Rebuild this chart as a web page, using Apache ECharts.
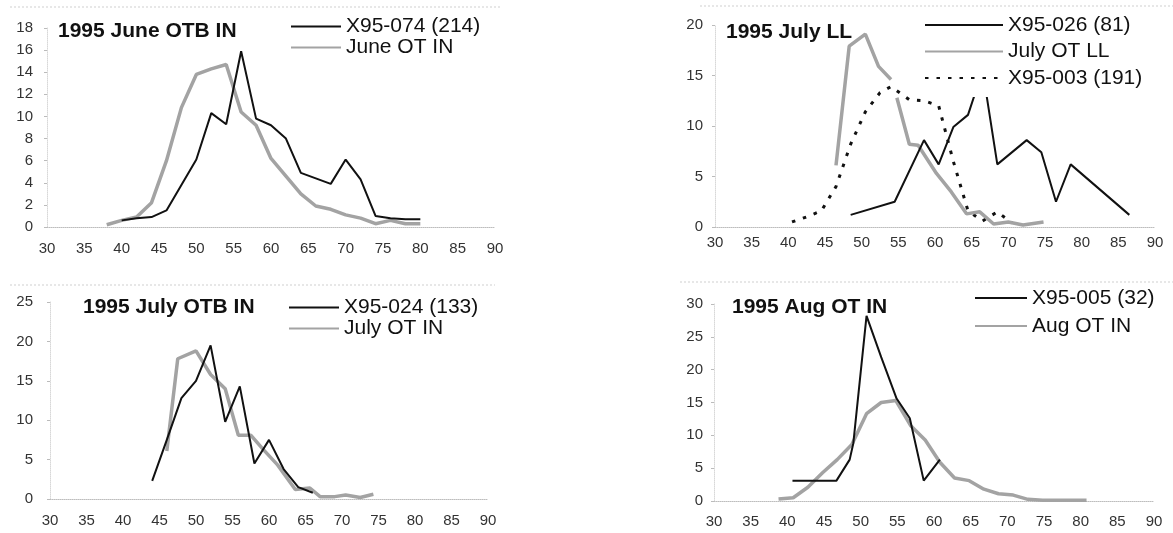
<!DOCTYPE html>
<html>
<head>
<meta charset="utf-8">
<script src="https://cdn.jsdelivr.net/npm/echarts@6/dist/echarts.min.js"></script>
<style>
html,body{margin:0;padding:0;background:#fff;}
#c{width:1173px;height:533px;}
</style>
</head>
<body>
<div id="c"></div>
<script>
// ---------- DATA ----------
// x-axis tick values (same for all panels)
const xTicks = [30, 35, 40, 45, 50, 55, 60, 65, 70, 75, 80, 85, 90];

// Panel 1: 1995 June OTB IN
const p1X = [38, 40, 42, 44, 46, 48, 50, 52, 54, 56, 58, 60, 62, 64, 66, 68, 70, 72, 74, 76, 78, 80];
const p1Black = [null, 0.6, 0.8, 0.9, 1.5, 3.8, 6.1, 10.3, 9.3, 15.9, 9.8, 9.2, 8.0, 4.9, 4.4, 3.9, 6.1, 4.3, 1.0, 0.8, 0.7, 0.7];
const p1Gray = [0.2, 0.6, 0.9, 2.2, 6.0, 10.8, 13.8, 14.3, 14.7, 10.4, 9.2, 6.2, 4.6, 3.0, 1.9, 1.6, 1.1, 0.8, 0.3, 0.6, 0.3, 0.3];

// Panel 2: 1995 July LL
const p2BlackX = [48.5, 54.5, 58.5, 60.5, 62.5, 64.5, 66.5, 68.5, 72.5, 74.5, 76.5, 78.5, 86.5];
const p2BlackY = [1.2, 2.5, 8.6, 6.2, 9.9, 11.1, 15.5, 6.2, 8.6, 7.4, 2.5, 6.2, 1.2];
const p2GrayX = [46.5, 48.3, 50.5, 52.3, 54, 54.4, 54.8, 56.5, 57.7, 60.2, 62.2, 64.3, 66.1, 68, 70, 72, 74.8];
const p2GrayY = [6.1, 17.9, 19.1, 15.9, 14.6, null, 12.8, 8.2, 8.1, 5.3, 3.5, 1.3, 1.5, 0.3, 0.5, 0.2, 0.5];
const p2DotX = [40.5, 42.5, 44.5, 46.5, 48.5, 50.5, 52.5, 54, 56.5, 58.5, 60.5, 62.5, 64.5, 66.5, 68.5, 70.5];
const p2DotY = [0.5, 1.0, 1.6, 4.0, 8.2, 11.4, 13.3, 13.9, 12.6, 12.5, 12.0, 6.5, 1.6, 0.6, 1.5, 0.4];

// Panel 3: 1995 July OTB IN
const p3BlackX = [44, 46, 48, 50, 52, 54, 56, 58, 60, 62, 64, 66];
const p3BlackY = [2.3, 7.5, 12.8, 15.0, 19.5, 9.8, 14.3, 4.5, 7.5, 3.8, 1.5, 0.8];
const p3GrayX = [46, 47.5, 50, 52, 54, 55.8, 57.5, 59.2, 61.2, 63.6, 65.6, 67, 69, 70.5, 72.5, 74.3];
const p3GrayY = [6.1, 17.8, 18.8, 15.8, 14.0, 8.1, 8.1, 6.3, 4.3, 1.2, 1.4, 0.3, 0.3, 0.5, 0.2, 0.6];

// Panel 4: 1995 Aug OT IN
const p4BlackX = [40.7, 42.7, 44.7, 46.7, 48.5, 49, 50.8, 52.8, 54.9, 56.7, 58.6, 60.8];
const p4BlackY = [3.1, 3.1, 3.1, 3.1, 6.3, 8.8, 28.2, 21.9, 15.6, 12.6, 3.1, 6.3];
const p4GrayX = [38.8, 40.8, 42.8, 44.8, 46.8, 48.8, 50.8, 52.8, 54.8, 56.8, 58.8, 60.8, 62.8, 64.8, 66.8, 68.8, 70.8, 72.8, 74.8, 76.8, 78.8, 80.8];
const p4GrayY = [0.3, 0.5, 2.1, 4.3, 6.3, 8.6, 13.3, 15.0, 15.3, 11.5, 9.3, 5.9, 3.5, 3.1, 1.8, 1.1, 0.9, 0.25, 0.1, 0.1, 0.1, 0.1];

// titles / names
const titles = ['1995 June OTB IN', '1995 July LL', '1995 July OTB IN', '1995 Aug OT IN'];
const names1 = ['X95-074 (214)', 'June OT IN'];
const names2 = ['X95-026 (81)', 'July OT LL', 'X95-003 (191)'];
const names3 = ['X95-024 (133)', 'July OT IN'];
const names4 = ['X95-005 (32)', 'Aug OT IN'];

// y-axis max / interval per panel
const yMax = [18, 20, 25, 30];
const yInt = [2, 5, 5, 5];

// ---------- CHART ----------
const FONT = "'Liberation Sans', Arial, sans-serif";
const zip = (xs, ys) => xs.map((x, i) => [x, ys[i] === null ? '-' : ys[i]]);

const grids = [
  {left: 47, top: 28, width: 448, height: 199},
  {left: 715, top: 25, width: 440, height: 202},
  {left: 50, top: 302, width: 438, height: 197},
  {left: 714, top: 304, width: 440, height: 197}
];
const labelMargins = [14, 8, 14, 13];
const yLabelMargins = [14, 12, 17, 11];

const BLACK = '#111';
const GRAY = '#a3a3a3';
const blackLine = {color: BLACK, width: 2};
const grayLine = {color: GRAY, width: 3.5};
const dotLine = {color: BLACK, width: 3, type: [3.5, 8], cap: 'butt'};

function mkSeries(name, idx, data, ls, z) {
  return {
    name: name, type: 'line', xAxisIndex: idx, yAxisIndex: idx,
    data: data, symbol: 'none', showSymbol: false, connectNulls: false,
    lineStyle: ls, itemStyle: {color: ls.color}, z: z, silent: true
  };
}

const series = [
  mkSeries(names1[1], 0, zip(p1X, p1Gray), grayLine, 2),
  mkSeries(names1[0], 0, zip(p1X, p1Black), blackLine, 3),
  mkSeries(names2[2], 1, zip(p2DotX, p2DotY), dotLine, 2),
  mkSeries(names2[1], 1, zip(p2GrayX, p2GrayY), grayLine, 2),
  mkSeries(names2[0], 1, zip(p2BlackX, p2BlackY), blackLine, 3),
  mkSeries(names3[1], 2, zip(p3GrayX, p3GrayY), grayLine, 2),
  mkSeries(names3[0], 2, zip(p3BlackX, p3BlackY), blackLine, 3),
  mkSeries(names4[1], 3, zip(p4GrayX, p4GrayY), grayLine, 2),
  mkSeries(names4[0], 3, zip(p4BlackX, p4BlackY), blackLine, 3)
];

const xAxes = grids.map((g, i) => ({
  type: 'value', gridIndex: i, min: xTicks[0], max: xTicks[xTicks.length - 1],
  interval: xTicks[1] - xTicks[0],
  axisLine: {show: true, lineStyle: {color: '#bdbdbd', width: 1, type: 'dotted'}},
  axisTick: {show: false},
  splitLine: {show: false},
  axisLabel: {fontFamily: FONT, fontSize: 15, color: '#333', margin: labelMargins[i]}
}));

const yAxes = grids.map((g, i) => ({
  type: 'value', gridIndex: i, min: 0, max: yMax[i], interval: yInt[i],
  axisLine: {show: true, lineStyle: {color: '#d8d8d8', width: 1, type: 'dotted'}},
  axisTick: {show: true, length: 3, lineStyle: {color: '#bbb'}},
  splitLine: {show: false},
  axisLabel: {fontFamily: FONT, fontSize: 15, color: '#333', margin: yLabelMargins[i]}
}));

const titlePos = [[58, 21], [726, 22], [83, 297], [732, 297]];
const title = titles.map((t, i) => ({
  text: t, left: titlePos[i][0], top: titlePos[i][1], padding: 0,
  textStyle: {fontFamily: FONT, fontSize: 21, fontWeight: 'bold', color: '#111'}
}));

function mkLegend(names, left, top, itemWidth, lineH, gap, extra) {
  return Object.assign({
    data: names, orient: 'vertical', left: left, top: top,
    itemWidth: itemWidth, itemHeight: 12, itemGap: gap, padding: 0,
    selectedMode: false,
    itemStyle: {opacity: 0},
    textStyle: {fontFamily: FONT, fontSize: 21, color: '#111', lineHeight: lineH, padding: [0, 0, 0, 0]}
  }, extra || {});
}

const legend = [
  mkLegend(names1, 290, 16, 50, 19, 0),
  mkLegend(names2, 918, 8, 78, 22, 4.5, {padding: [6, 14, 8, 6], backgroundColor: '#fff'}),
  mkLegend(names3, 288, 297, 50, 20, 0),
  mkLegend(names4, 974, 287, 52, 22, 6)
];

const decoLine = (x1, x2, y) => ({
  type: 'line', shape: {x1: x1, y1: y, x2: x2, y2: y}, silent: true,
  style: {stroke: '#cfcfcf', lineWidth: 1, lineDash: [2, 2]}
});

const option = {
  animation: false,
  backgroundColor: '#fff',
  title: title,
  legend: legend,
  grid: grids,
  xAxis: xAxes,
  yAxis: yAxes,
  series: series,
  graphic: [
    decoLine(10, 500, 7),
    decoLine(700, 1173, 6),
    decoLine(10, 495, 285),
    decoLine(680, 1173, 282)
  ]
};

const chart = echarts.init(document.getElementById('c'), null, {renderer: 'canvas'});
chart.setOption(option);
</script>
</body>
</html>
